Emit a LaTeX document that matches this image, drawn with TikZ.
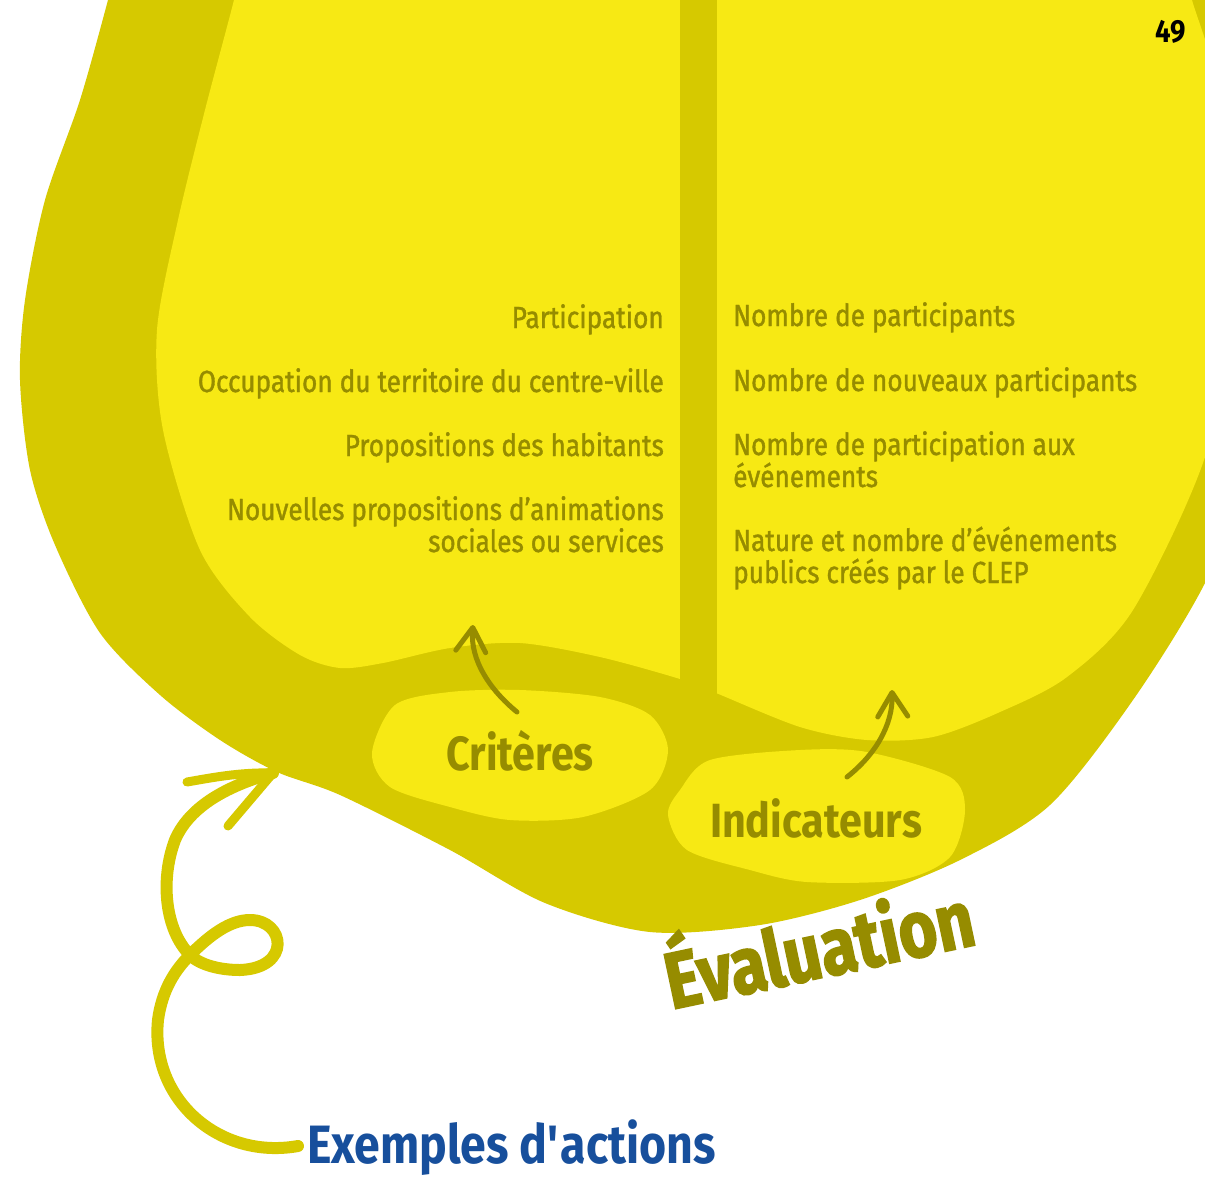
\documentclass[tikz,border=0pt]{standalone}
\usepackage{fontspec}
\setmainfont{Fira Sans}[FakeStretch=0.86]
\newfontfamily\itemfont{Fira Sans}[FakeStretch=0.86, FakeBold=1.2]
\newfontfamily\heavyfont{Fira Sans}[FakeStretch=0.82, FakeBold=2]
\usetikzlibrary{arrows.meta}

\definecolor{lemon}{HTML}{F7E914}
\definecolor{mustard}{HTML}{D6C900}
\definecolor{darkolive}{HTML}{968C00}
\definecolor{actionblue}{HTML}{174F9C}

\tikzset{
  critere/.style={anchor=base east, align=right, inner sep=0pt, text=darkolive,
    font=\itemfont\fontsize{30.5}{32}\selectfont},
  indic/.style={anchor=base west, align=left, inner sep=0pt, text=darkolive,
    font=\itemfont\fontsize{30.5}{32}\selectfont},
  blobtitle/.style={anchor=base, inner sep=0pt, text=darkolive,
    font=\fontsize{48}{50}\selectfont\bfseries},
  hint/.style={draw=darkolive, line width=5pt, line cap=round,
    -{Straight Barb[length=24pt,width=30pt,round]}},
  curl/.style={draw=mustard, line width=12pt, line cap=round},
}

\begin{document}
\begin{tikzpicture}[x=1pt,y=-1pt]
  \useasboundingbox (0,0) rectangle (1205,1176);
  \clip (0,0) rectangle (1205,1176);

  % outer band
  \fill[mustard] plot[smooth cycle] coordinates {
    (115,-30) (108,0) (80,100) (45,200) (25,300) (20,380) (30,470)
    (55,545) (100,633) (160,695) (220,740) (277,772) (340,795)
    (450,850) (545,903) (650,932) (760,925) (860,900) (960,860)
    (1050,805) (1133,700) (1205,583) (1260,450) (1300,250) (1300,-30)};

  % inner area
  \fill[lemon] plot[smooth cycle] coordinates {
    (240,-30) (234,0) (205,110) (178,220) (157,330) (163,430) (200,550)
    (250,617) (300,655) (340,668) (383,663) (450,648) (520,643) (600,657)
    (680,679) (716,693) (800,727) (867,740) (933,737) (1000,712)
    (1067,677) (1133,610) (1205,457) (1235,300) (1220,100) (1192,0)
    (1185,-30)};

  % divider
  \fill[mustard] (680,-10) rectangle (717,700);

  % blobs
  \fill[lemon] plot[smooth cycle] coordinates {
    (395,705) (450,692) (520,690) (600,697) (650,715) (668,750) (650,790)
    (583,817) (510,820) (450,807) (390,787) (372,753)};
  \fill[lemon] plot[smooth cycle] coordinates {
    (710,760) (800,750) (867,752) (950,777) (965,810) (950,857) (900,880)
    (807,882) (750,870) (687,850) (668,815) (680,790)};

  % criteria
  \node[critere] (c1) at (664,328) {Participation};
  \node[critere] (c2) at (664,392) {Occupation du territoire du centre-ville};
  \node[critere] (c3) at (664,456) {Propositions des habitants};
  \node[critere] (c4) at (664,552) {Nouvelles propositions d’animations\\sociales ou services};

  % indicators
  \node[indic] (i1) at (733,326) {Nombre de participants};
  \node[indic] (i2) at (733,391) {Nombre de nouveaux participants};
  \node[indic] (i3) at (733,487) {Nombre de participation aux\\événements};
  \node[indic] (i4) at (733,583) {Nature et nombre d’événements\\publics créés par le CLEP};

  \node[blobtitle] (crit) at (520,770) {Critères};
  \node[blobtitle] (ind) at (816,837) {Indicateurs};

  \coordinate (critfoot) at (517,712);
  \coordinate (crittip) at (473,625);
  \coordinate (indfoot) at (847,777);
  \coordinate (indtip) at (892,690);
  \draw[hint] (critfoot) .. controls (490,690) and (470,660) .. (crittip);
  \draw[hint] (indfoot) .. controls (875,755) and (893,725) .. (indtip);

  \node[anchor=base, rotate=12, inner sep=0pt, text=darkolive,
    font=\heavyfont\fontsize{80}{80}\selectfont\bfseries] (eval) at (825,977) {Évaluation};

  \node[anchor=base west, inner sep=0pt, text=actionblue,
    font=\fontsize{54}{54}\selectfont\bfseries] (ex) at (307,1163) {Exemples d\textquotesingle actions};

  \node[anchor=base east, inner sep=0pt, font=\fontsize{32}{32}\selectfont\bfseries] (page) at (1186,42) {49};

  % curly arrow
  \coordinate (curltail) at (298,1146);
  \coordinate (curltip) at (273,773);
  \draw[curl] (curltail) .. controls (220,1160) and (150,1100) .. (158,1020)
    .. controls (162,990) and (175,970) .. (190,955)
    .. controls (210,935) and (230,920) .. (250,920)
    .. controls (285,920) and (292,968) .. (240,970)
    .. controls (220,970) and (200,965) .. (190,955)
    .. controls (165,930) and (160,880) .. (175,840)
    .. controls (190,805) and (230,785) .. (curltip);
  \draw[curl, line width=9pt] (curltip) .. controls (240,772) and (210,778) .. (187,782);
  \draw[curl, line width=9pt] (curltip) -- (228,826);
\end{tikzpicture}
\end{document}
